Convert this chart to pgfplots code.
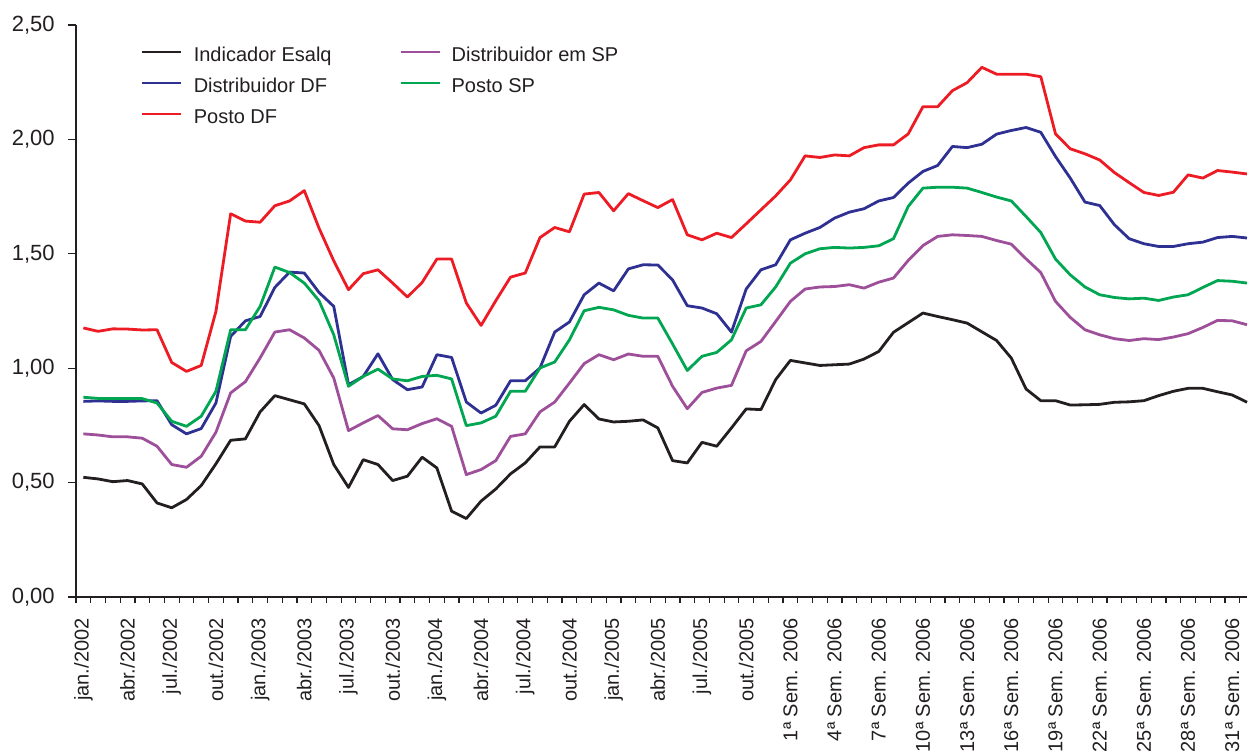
\documentclass[border=0pt]{standalone}
\usepackage{fontspec}
\setmainfont{Liberation Sans}
\usepackage{pgfplots}
\usepackage{pgfplotstable}
\pgfplotsset{compat=1.18}
\definecolor{cblack}{HTML}{231F20}
\definecolor{cblue}{HTML}{2E3192}
\definecolor{cred}{HTML}{ED1C24}
\definecolor{cpurple}{HTML}{9E4F9A}
\definecolor{cgreen}{HTML}{00A651}
\definecolor{ctext}{HTML}{231F20}
\pgfplotstableread{
x esalq dsp ddf psp pdf
0 0.523 0.713 0.855 0.873 1.176
1 0.516 0.708 0.857 0.868 1.161
2 0.504 0.700 0.855 0.867 1.172
3 0.509 0.700 0.855 0.868 1.171
4 0.494 0.694 0.857 0.867 1.167
5 0.411 0.659 0.858 0.848 1.168
6 0.390 0.579 0.753 0.768 1.025
7 0.426 0.567 0.713 0.746 0.986
8 0.487 0.615 0.736 0.790 1.012
9 0.582 0.720 0.848 0.899 1.248
10 0.685 0.892 1.139 1.168 1.675
11 0.691 0.941 1.207 1.168 1.643
12 0.809 1.045 1.226 1.270 1.638
13 0.880 1.158 1.353 1.442 1.710
14 0.862 1.168 1.420 1.418 1.731
15 0.844 1.132 1.416 1.372 1.776
16 0.749 1.078 1.331 1.295 1.612
17 0.579 0.957 1.270 1.146 1.469
18 0.479 0.727 0.928 0.921 1.343
19 0.600 0.761 0.964 0.964 1.413
20 0.579 0.793 1.063 0.996 1.430
21 0.509 0.735 0.950 0.953 1.372
22 0.528 0.731 0.906 0.945 1.311
23 0.611 0.758 0.918 0.964 1.375
24 0.564 0.779 1.059 0.969 1.477
25 0.375 0.746 1.047 0.953 1.477
26 0.343 0.535 0.852 0.749 1.285
27 0.419 0.557 0.804 0.761 1.187
28 0.472 0.596 0.838 0.790 1.295
29 0.538 0.702 0.945 0.899 1.398
30 0.586 0.713 0.945 0.899 1.416
31 0.656 0.809 1.001 1.001 1.571
32 0.656 0.852 1.158 1.027 1.615
33 0.768 0.935 1.202 1.124 1.596
34 0.841 1.020 1.321 1.251 1.761
35 0.778 1.059 1.372 1.266 1.768
36 0.765 1.037 1.338 1.255 1.688
37 0.768 1.062 1.434 1.231 1.763
38 0.774 1.052 1.452 1.219 1.732
39 0.739 1.052 1.451 1.219 1.702
40 0.596 0.921 1.386 1.106 1.737
41 0.586 0.823 1.273 0.990 1.583
42 0.676 0.894 1.263 1.052 1.561
43 0.659 0.913 1.238 1.069 1.590
44 0.739 0.925 1.158 1.124 1.571
45 0.822 1.076 1.346 1.263 1.631
46 0.819 1.117 1.430 1.277 1.692
47 0.950 1.204 1.452 1.355 1.753
48 1.034 1.292 1.561 1.459 1.823
49 1.023 1.346 1.590 1.500 1.928
50 1.012 1.355 1.615 1.522 1.921
51 1.015 1.357 1.656 1.528 1.932
52 1.018 1.365 1.682 1.525 1.928
53 1.040 1.350 1.697 1.528 1.964
54 1.073 1.376 1.731 1.535 1.976
55 1.157 1.394 1.746 1.566 1.976
56 1.199 1.471 1.809 1.707 2.024
57 1.241 1.536 1.860 1.787 2.143
58 1.226 1.576 1.886 1.791 2.143
59 1.212 1.583 1.969 1.791 2.213
60 1.197 1.580 1.964 1.787 2.248
61 1.159 1.576 1.979 1.768 2.315
62 1.121 1.558 2.023 1.748 2.285
63 1.044 1.542 2.039 1.731 2.285
64 0.909 1.478 2.052 1.663 2.285
65 0.858 1.418 2.031 1.593 2.274
66 0.858 1.292 1.925 1.477 2.024
67 0.839 1.222 1.831 1.408 1.959
68 0.840 1.168 1.726 1.355 1.937
69 0.842 1.146 1.711 1.321 1.910
70 0.851 1.129 1.627 1.309 1.855
71 0.853 1.121 1.566 1.303 1.811
72 0.858 1.129 1.544 1.306 1.768
73 0.880 1.125 1.532 1.296 1.755
74 0.899 1.136 1.532 1.311 1.769
75 0.912 1.151 1.544 1.321 1.845
76 0.912 1.178 1.551 1.353 1.831
77 0.897 1.209 1.571 1.383 1.864
78 0.883 1.207 1.576 1.380 1.857
79 0.851 1.190 1.569 1.372 1.849
}\data
\begin{document}
\begin{tikzpicture}
\useasboundingbox (-38pt,-79pt) rectangle (586.5pt,298.5pt);
\begin{axis}[
  scale only axis, width=585.5pt, height=286pt,
  xmin=-0.5, xmax=79, ymin=0, ymax=2.5,
  clip=false,
  axis lines*=left,
  axis line style={draw=ctext, line width=0.6pt},
  tick align=outside,
  tick style={draw=ctext, line width=0.6pt},
  major tick length=4pt, minor tick length=3pt,
  ytick={0,0.5,1,1.5,2,2.5},
  yticklabels={{0,00},{0,50},{1,00},{1,50},{2,00},{2,50}},
  yticklabel style={font=\fontsize{11}{13}\selectfont, text=ctext, inner sep=0pt, anchor=east, xshift=-6.5pt},
  xtick={0,3,...,78},
  xticklabels={jan./2002,abr./2002,jul./2002,out./2002,jan./2003,abr./2003,jul./2003,out./2003,jan./2004,abr./2004,jul./2004,out./2004,jan./2005,abr./2005,jul./2005,out./2005,1ª Sem. 2006,4ª Sem. 2006,7ª Sem. 2006,10ª Sem. 2006,13ª Sem. 2006,16ª Sem. 2006,19ª Sem. 2006,22ª Sem. 2006,25ª Sem. 2006,28ª Sem. 2006,31ª Sem. 2006},
  every major x tick/.append style={draw=none},
  minor xtick={-0.5,0.5,...,78.5},
  xticklabel shift=6.5pt,
  xticklabel style={font=\fontsize{10}{12}\selectfont, text=ctext, rotate=90, anchor=east, inner sep=0pt},
  legend columns=2,
  legend cell align=left,
  legend image code/.code={\draw[#1] (0pt,4.5pt) -- (19.6pt,4.5pt);},
  legend style={draw=none, fill=none, inner sep=0pt,
    at={(axis cs:3.845,2.4096)}, anchor=north west,
    row sep=5.5pt,
    nodes={inner sep=0pt, text height=7.5pt, text depth=2.5pt, anchor=base west, font=\fontsize{10}{12}\selectfont, text=ctext},
    /tikz/column 1/.style={column sep=5.7pt},
    /tikz/column 2/.style={column sep=33.8pt},
    /tikz/column 3/.style={column sep=5.2pt}},
  every axis plot/.append style={line width=1.4pt, line join=round},
]
\addplot[cblack] table[x=x,y=esalq]{\data};
\addlegendentry{Indicador Esalq}
\addplot[cpurple] table[x=x,y=dsp]{\data};
\addlegendentry{Distribuidor em SP}
\addplot[cblue] table[x=x,y=ddf]{\data};
\addlegendentry{Distribuidor DF}
\addplot[cgreen] table[x=x,y=psp]{\data};
\addlegendentry{Posto SP}
\addplot[cred] table[x=x,y=pdf]{\data};
\addlegendentry{Posto DF}
\end{axis}
\end{tikzpicture}
\end{document}
